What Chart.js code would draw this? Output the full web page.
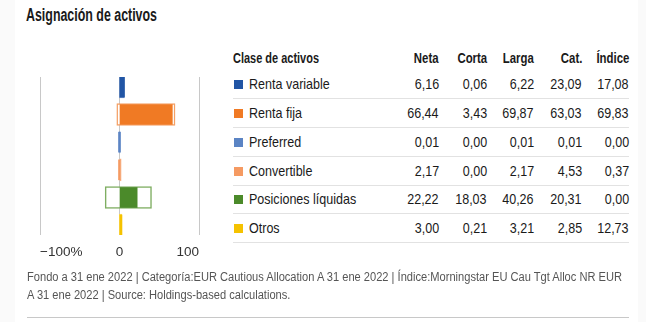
<!DOCTYPE html>
<html>
<head>
<meta charset="utf-8">
<script src="https://cdn.jsdelivr.net/npm/chart.js@4"></script>
<style>
  body { margin: 0; width: 646px; height: 322px; background: #fafafa; overflow: hidden;
         font-family: "Liberation Sans", Arial, sans-serif; color: #1a1a1a; }
  #card { position: absolute; left: 15px; top: 0; width: 623px; height: 322px; background: #fff; }
  .fit { display: inline-block; white-space: nowrap; }
  #title { position: absolute; left: 26px; top: 4px; font-size: 18px; font-weight: bold; line-height: 22px; }
  #chartBox { position: absolute; left: 0; top: 0; width: 230px; height: 270px; }
  .hdr { position: absolute; top: 44px; height: 28px; line-height: 28px; font-size: 15px; font-weight: bold; white-space: nowrap; }
  .row { position: absolute; left: 233px; width: 396px; height: 29px; box-sizing: border-box;
         border-bottom: 1px solid #e2e2e2; }
  .cell { position: absolute; top: 0; line-height: 28px; font-size: 15px; white-space: nowrap; }
  .cell span { display: inline-block; transform: scaleX(0.835); }
  .sw { position: absolute; left: 1px; top: 10px; width: 9px; height: 9px; }
  #foot { position: absolute; left: 27px; top: 268px; font-size: 12.5px; line-height: 18px; color: #555; }
  #rule { position: absolute; left: 27px; top: 317px; width: 602px; height: 1px; background: #c8c8c8; }
</style>
</head>
<body>
<div id="card"></div>
<div id="title"><span class="fit" id="titleText">Asignación de activos</span></div>
<div id="chartBox"><canvas id="alloc"></canvas></div>
<div id="table"></div>
<div id="foot"><span class="fit" id="foot1">Fondo a 31 ene 2022 | Categoría:EUR Cautious Allocation A 31 ene 2022 | Índice:Morningstar EU Cau Tgt Alloc NR EUR</span><br><span class="fit" id="foot2">A 31 ene 2022 | Source: Holdings-based calculations.</span></div>
<div id="rule"></div>
<script>
// data
const categories = ["Renta variable", "Renta fija", "Preferred", "Convertible", "Posiciones líquidas", "Otros"];
const neta   = [6.16, 66.44, 0.01, 2.17, 22.22, 3.00];
const corta  = [0.06, 3.43, 0.00, 0.00, 18.03, 0.21];
const larga  = [6.22, 69.87, 0.01, 2.17, 40.26, 3.21];
const cat    = [23.09, 63.03, 0.01, 4.53, 20.31, 2.85];
const indice = [17.08, 69.83, 0.00, 0.37, 0.00, 12.73];
const colors = ["#2155a5", "#f07a24", "#5b84c4", "#f59a62", "#4b8a2a", "#f5c200"];
const outlineColors = ["#5a80bf", "#f4a066", "#8aa6d4", "#f8b78f", "#7fae62", "#f8d44d"];
const xTickLabels = ["\u2212100%", "0", "100"];
const columns = ["Neta", "Corta", "Larga", "Cat.", "Índice"];
const colRight = [439, 487, 534, 582, 629];

// squeeze an element to a given width (the original uses a condensed face)
function fitTo(el, width) {
  const w = el.getBoundingClientRect().width;
  el.style.transformOrigin = "left center";
  el.style.transform = "scaleX(" + (width / w) + ")";
  return width / w;
}

// table on the right
const fmt = v => v.toFixed(2).replace(".", ",");
const table = document.getElementById("table");
let html = '<div class="hdr" style="left:233px"><span class="fit" id="hdr0">Clase de activos</span></div>';
columns.forEach((c, j) => {
  html += `<div class="hdr" style="right:${646 - colRight[j]}px"><span class="fit" style="transform:scaleX(0.76);transform-origin:right center">${c}</span></div>`;
});
const colVals = [neta, corta, larga, cat, indice];
categories.forEach((name, i) => {
  const top = 70 + i * 28.85;
  html += `<div class="row" style="top:${top}px">`;
  html += `<div class="sw" style="background:${colors[i]}"></div>`;
  html += `<div class="cell" style="left:16px"><span style="transform-origin:left center">${name}</span></div>`;
  colVals.forEach((vals, j) => {
    html += `<div class="cell" style="right:${629 - colRight[j]}px"><span style="transform-origin:right center">${fmt(vals[i])}</span></div>`;
  });
  html += "</div>";
});
table.innerHTML = html;

fitTo(document.getElementById("titleText"), 131);
fitTo(document.getElementById("hdr0"), 86);
const s = fitTo(document.getElementById("foot1"), 595);
const f2 = document.getElementById("foot2");
f2.style.transformOrigin = "left center";
f2.style.transform = "scaleX(" + s + ")";

// bars: outline = -short..long, filled = net
const yMin = -0.355, yMax = categories.length - 1 + 0.355;
const idx = categories.map((c, i) => i);
new Chart(document.getElementById("alloc"), {
  type: "bar",
  data: {
    datasets: [
      {
        label: "Neta",
        data: idx.map(i => ({ x: [0, neta[i]], y: i })),
        backgroundColor: colors,
        borderWidth: 0,
        barThickness: 20,
        minBarLength: 2,
        grouped: false,
        order: 0
      },
      {
        label: "Corta/Larga",
        data: idx.map(i => ({ x: [-corta[i], larga[i]], y: i })),
        backgroundColor: "#ffffff",
        borderColor: outlineColors,
        borderWidth: 1.5,
        borderSkipped: false,
        barThickness: 22,
        grouped: false,
        order: 1
      }
    ]
  },
  options: {
    indexAxis: "y",
    responsive: true,
    maintainAspectRatio: false,
    animation: false,
    layout: { padding: { left: 40, right: 31, top: 77, bottom: 8 } },
    plugins: { legend: { display: false }, tooltip: { enabled: false } },
    scales: {
      y: {
        type: "linear",
        display: false,
        reverse: true,
        offset: false,
        grid: { offset: false },
        min: yMin,
        max: yMax
      },
      x: {
        type: "linear",
        min: -100,
        max: 100,
        border: { display: false },
        grid: { color: "#c8c8c8", lineWidth: 1, drawTicks: false },
        afterFit: sc => { sc.height = 27; },
        ticks: {
          stepSize: 100,
          align: "inner",
          padding: 9,
          color: "#333",
          font: { family: "'Liberation Sans', Arial, sans-serif", size: 13.5 },
          callback: (v, i) => xTickLabels[i]
        }
      }
    }
  }
});
</script>
</body>
</html>
